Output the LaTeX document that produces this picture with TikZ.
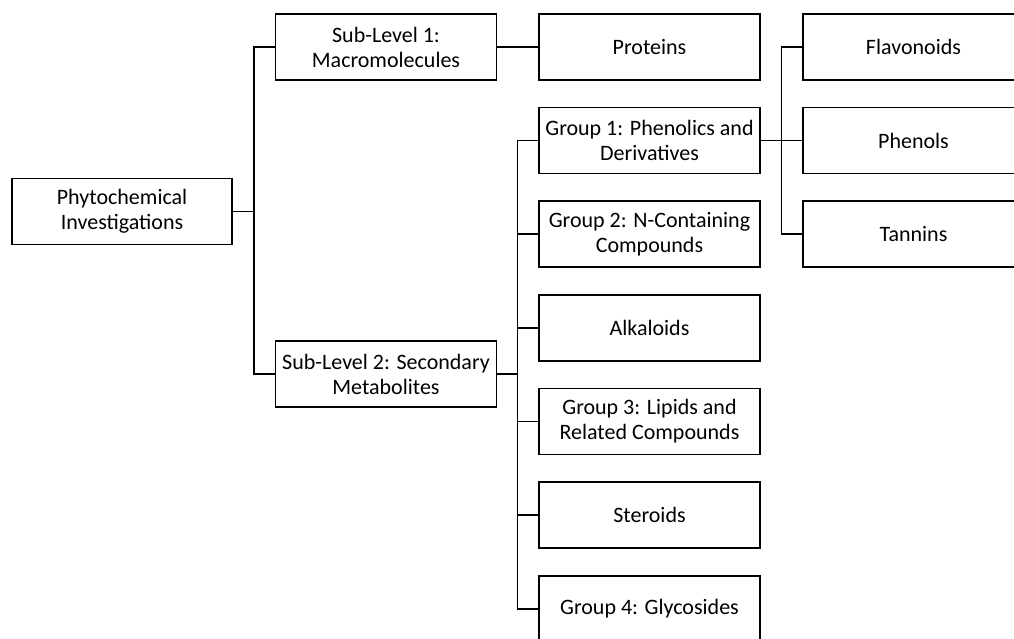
\documentclass[tikz,border=0pt]{standalone}
\usepackage{fontspec}
\setmainfont{Carlito}
\begin{document}
\begin{tikzpicture}[x=1bp,y=-1bp,
  box/.style={draw=black, line width=1.8bp, minimum width=221bp, minimum height=66bp,
    align=center, inner sep=0pt, font=\fontsize{22bp}{25bp}\selectfont},
  conn/.style={draw=black, line width=1.3bp}]
\useasboundingbox (0,0) rectangle (1014,639);
% column 1
\node[box, minimum width=220bp] (root) at (122,211.5) {Phytochemical\\Investigations};
% column 2
\node[box] (sub1) at (386,47) {Sub-Level 1:\\Macromolecules};
\node[box] (sub2) at (386,374) {Sub-Level 2: Secondary\\Metabolites};
% column 3
\node[box] (prot) at (649.5,47) {Proteins};
\node[box] (g1) at (649.5,140.5) {Group 1: Phenolics and\\Derivatives};
\node[box] (g2) at (649.5,234) {Group 2: N-Containing\\Compounds};
\node[box] (alk) at (649.5,328) {Alkaloids};
\node[box] (g3) at (649.5,421.5) {Group 3: Lipids and\\Related Compounds};
\node[box] (ster) at (649.5,515) {Steroids};
\node[box] (g4) at (649.5,609) {Group 4: Glycosides};
% column 4
\node[box] (flav) at (913.5,47) {Flavonoids};
\node[box] (phen) at (913.5,140.5) {Phenols};
\node[box] (tann) at (913.5,234) {Tannins};
% junctions
\coordinate (j1) at (254,211.5);
\coordinate (j2) at (517.5,374);
\coordinate (j3) at (781.5,140.5);
% connectors
\draw[conn] (root.east) -- (j1);
\draw[conn] (j1) |- (sub1.west);
\draw[conn] (j1) |- (sub2.west);
\draw[conn] (sub1.east) -- (prot.west);
\draw[conn] (sub2.east) -- (j2);
\draw[conn] (j2) |- (g1.west);
\draw[conn] (j2) |- (g2.west);
\draw[conn] (j2) |- (alk.west);
\draw[conn] (j2) |- (g3.west);
\draw[conn] (j2) |- (ster.west);
\draw[conn] (j2) |- (g4.west);
\draw[conn] (g1.east) -- (phen.west);
\draw[conn] (j3) |- (flav.west);
\draw[conn] (j3) |- (tann.west);
\end{tikzpicture}
\end{document}
